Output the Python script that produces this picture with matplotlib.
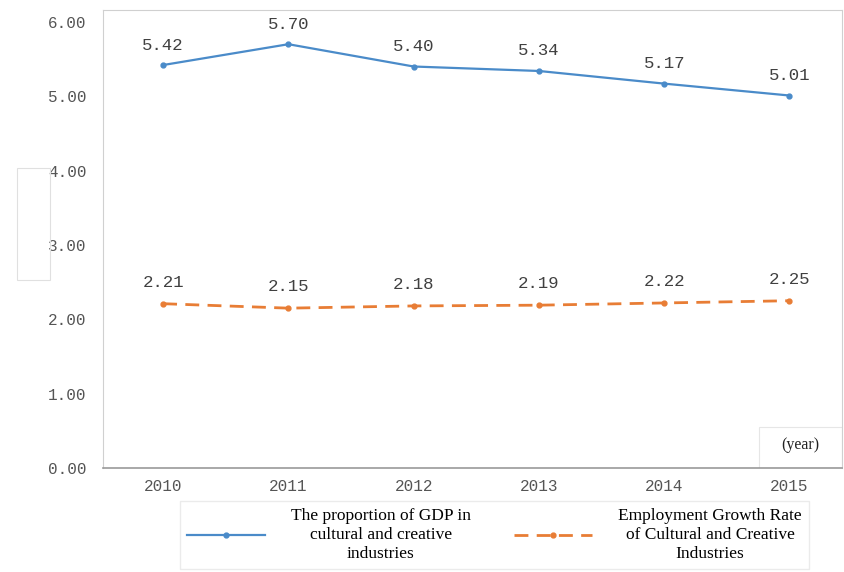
import matplotlib.pyplot as plt
from matplotlib.patches import Rectangle

years = [2010, 2011, 2012, 2013, 2014, 2015]
gdp_share = [5.42, 5.70, 5.40, 5.34, 5.17, 5.01]
employment_growth = [2.21, 2.15, 2.18, 2.19, 2.22, 2.25]
yticks = [0, 1, 2, 3, 4, 5, 6]
label_gdp = "The proportion of GDP in\ncultural and creative\nindustries"
label_emp = "Employment Growth Rate\nof Cultural and Creative\nIndustries"

blue = '#4a8bc9'
orange = '#e87d35'
mono = 'Liberation Mono'
serif = 'Liberation Serif'

fig = plt.figure(figsize=(8.45, 5.72), dpi=100)
ax = fig.add_axes([0.1219, 0.1818, 0.8746, 0.8007])

ax.plot(years, gdp_share, color=blue, lw=1.6, marker='o', ms=3.5, label=label_gdp)
ax.plot(years, employment_growth, color=orange, lw=2, ls=(0, (5, 3)), marker='o', ms=3.5,
        label=label_emp)

for x, y in zip(years, gdp_share):
    ax.annotate('%.2f' % y, (x, y), xytext=(0, 9), textcoords='offset points',
                ha='center', va='bottom', fontsize=12.5, family=mono, color='#404040')
for x, y in zip(years, employment_growth):
    ax.annotate('%.2f' % y, (x, y), xytext=(0, 10), textcoords='offset points',
                ha='center', va='bottom', fontsize=12.5, family=mono, color='#404040')

ax.set_xlim(2009.52, 2015.42)
ax.set_ylim(0, 6.16)
ax.set_xticks(years)
ax.set_xticklabels([str(y) for y in years], family=mono, fontsize=11.5, color='#555555')
ax.set_yticks(yticks)
ax.set_yticklabels(['%.2f' % v for v in yticks], family=mono, fontsize=11.5, color='#555555')
ax.tick_params(length=0, pad=8)
ax.tick_params(axis='y', pad=12)

for s in ['left', 'top', 'right']:
    ax.spines[s].set_color('#d0d0d0')
ax.spines['bottom'].set_color('#999999')
ax.spines['bottom'].set_linewidth(1.2)

# "(year)" box in the lower right corner
ax.text(0.944, 0.05, '(year)', transform=ax.transAxes, ha='center', va='center',
        family=serif, fontsize=11.5, color='#222222')
ax.add_patch(Rectangle((0.888, 0.0), 0.112, 0.09, transform=ax.transAxes,
                       fill=False, ec='#e6e6e6', lw=0.8))
# empty y-label box on the left
fig.add_artist(Rectangle((17 / 845, 1 - 280 / 572), 33 / 845, 112 / 572,
                         fill=False, ec='#e0e0e0', lw=0.8))

leg = fig.legend(loc='center', bbox_to_anchor=(0.585, 0.064), ncol=2, frameon=True,
                 prop={'family': serif, 'size': 12.5}, handlelength=4.5,
                 handletextpad=1.5, columnspacing=2.5, edgecolor='#e6e6e6', fancybox=False)
for t in leg.get_texts():
    t.set_multialignment('center')
    t.set_linespacing(1.25)

fig.savefig('out.png', dpi=100)
